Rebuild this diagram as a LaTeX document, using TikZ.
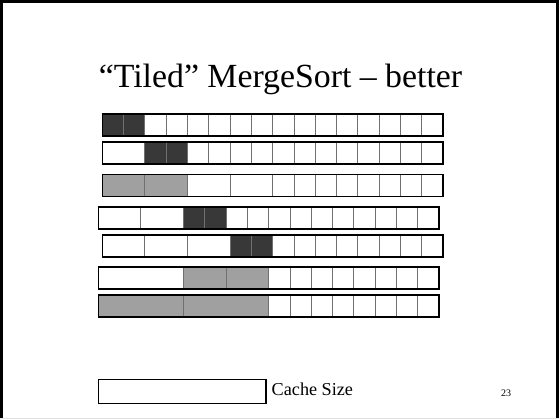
\documentclass[tikz,border=0pt]{standalone}
\usepackage{fontspec}
\setmainfont{Liberation Serif}
\definecolor{cellD}{HTML}{383838}
\definecolor{cellG}{HTML}{A0A0A0}
\definecolor{divider}{HTML}{707070}
\def\cellw{21.3}
% one array row: #1 = left x, #2 = top y, #3 = list of width/fill segments
\newcommand\cellrow[3]{%
  \gdef\xacc{0}%
  \foreach \w/\c in {#3}{%
    \filldraw[fill=\c, draw=divider, line width=0.9pt]
      ({#1+\xacc*\cellw},#2) rectangle ++({\w*\cellw},22);
    \pgfmathsetmacro\xnext{\xacc+\w}%
    \global\let\xacc\xnext
  }%
  \draw[rowframe] (#1,#2) rectangle ++({16*\cellw},22);
}
\begin{document}
\begin{tikzpicture}[x=1pt, y=-1pt,
  rowframe/.style={draw=black, line width=1.6pt},
  title/.style={font=\fontsize{33.8}{40}\selectfont, inner sep=0pt},
  legend/.style={font=\fontsize{18.2}{22}\selectfont, inner sep=0pt},
  pagenum/.style={font=\fontsize{10}{12}\selectfont, inner sep=0pt}]
\useasboundingbox (0,0) rectangle (559,419);
\fill[white] (0,0) rectangle (559,419);

% slide frame
\draw[black, line width=2.6pt] (1.3,419) -- (1.3,1.3) -- (557.7,1.3) -- (557.7,419);
\draw[black!12, line width=1pt] (0,418.5) -- (559,418.5);

% title
\node[title, anchor=base] (title) at (280.5,88) {“Tiled” MergeSort – better};

% merge passes
\cellrow{102.3}{114}{1/cellD,1/cellD,1/white,1/white,1/white,1/white,1/white,1/white,1/white,1/white,1/white,1/white,1/white,1/white,1/white,1/white}
\cellrow{102.3}{142}{2/white,1/cellD,1/cellD,1/white,1/white,1/white,1/white,1/white,1/white,1/white,1/white,1/white,1/white,1/white,1/white}
\cellrow{102.3}{174.5}{2/cellG,2/cellG,2/white,2/white,1/white,1/white,1/white,1/white,1/white,1/white,1/white,1/white}
\cellrow{98.3}{207}{2/white,2/white,1/cellD,1/cellD,1/white,1/white,1/white,1/white,1/white,1/white,1/white,1/white,1/white,1/white}
\cellrow{102.3}{235}{2/white,2/white,2/white,1/cellD,1/cellD,1/white,1/white,1/white,1/white,1/white,1/white,1/white,1/white}
\cellrow{98.3}{267}{4/white,2/cellG,2/cellG,1/white,1/white,1/white,1/white,1/white,1/white,1/white,1/white}
\cellrow{98.3}{295}{4/cellG,4/cellG,1/white,1/white,1/white,1/white,1/white,1/white,1/white,1/white}

% legend
\draw[rowframe] (98.3,379.3) rectangle (266,403.3);
\node[legend, anchor=base west] (cachesize) at (271.5,395) {Cache Size};
\node[pagenum, anchor=base] (page) at (506,396) {23};
\end{tikzpicture}
\end{document}
